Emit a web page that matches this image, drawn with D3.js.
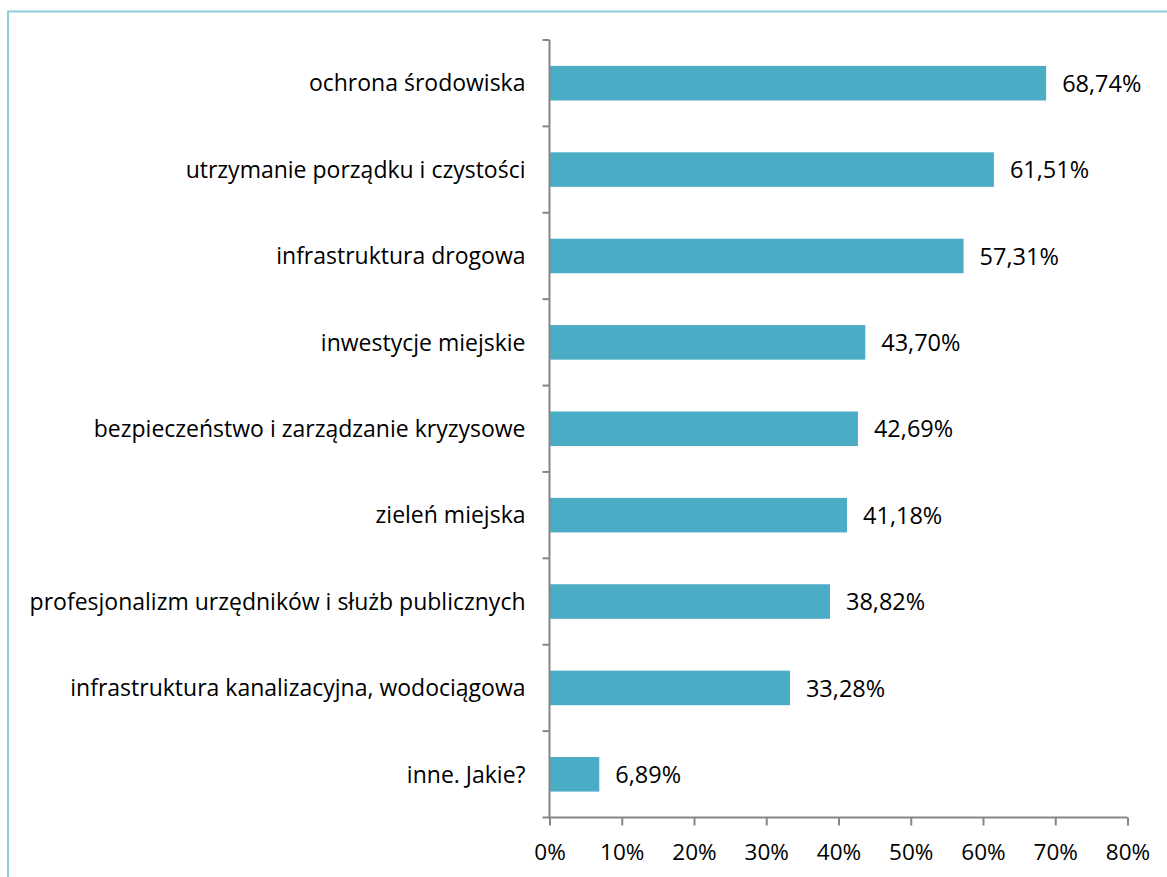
<!DOCTYPE html>
<html>
<head>
<meta charset="utf-8">
<script src="https://cdn.jsdelivr.net/npm/d3@7/dist/d3.min.js"></script>
<style>
  html, body { margin: 0; padding: 0; background: #fff; }
  svg { display: block; }
  text { font-family: "Open Sans", "Noto Sans", sans-serif; fill: #000; }
</style>
</head>
<body>
<svg id="chart" width="1167" height="877"></svg>
<script>
const categories = [
  "ochrona środowiska",
  "utrzymanie porządku i czystości",
  "infrastruktura drogowa",
  "inwestycje miejskie",
  "bezpieczeństwo i zarządzanie kryzysowe",
  "zieleń miejska",
  "profesjonalizm urzędników i służb publicznych",
  "infrastruktura kanalizacyjna, wodociągowa",
  "inne. Jakie?"
];
const values = [68.74, 61.51, 57.31, 43.70, 42.69, 41.18, 38.82, 33.28, 6.89];
const xTicks = [0, 10, 20, 30, 40, 50, 60, 70, 80];

const svg = d3.select("#chart");
const W = 1167, H = 877;

// chart frame (left and top edges visible)
svg.append("rect")
  .attr("x", 8).attr("y", 11.5)
  .attr("width", W + 20).attr("height", H + 20)
  .attr("fill", "none")
  .attr("stroke", "#92cddc")
  .attr("stroke-width", 2);

const plotLeft = 549.5, plotRight = 1127.5, plotTop = 40, plotBottom = 817.5;

const x = d3.scaleLinear().domain([0, 80]).range([plotLeft, plotRight]);
const y = d3.scaleBand().domain(categories).range([plotTop, plotBottom]).paddingInner(0.6).paddingOuter(0.3);

const fmt = v => v.toFixed(2).replace(".", ",") + "%";

// bars
svg.append("g").selectAll("rect")
  .data(values)
  .join("rect")
  .attr("x", x(0))
  .attr("y", (d, i) => y(categories[i]))
  .attr("width", d => x(d) - x(0))
  .attr("height", y.bandwidth())
  .attr("fill", "#4bacc6");

// value labels
svg.append("g").selectAll("text")
  .data(values)
  .join("text")
  .attr("x", d => x(d) + 16)
  .attr("y", (d, i) => y(categories[i]) + y.bandwidth() / 2)
  .attr("dy", "0.37em")
  .attr("font-size", 23.5)
  .text(d => fmt(d));

// category axis
const step = (plotBottom - plotTop) / categories.length;
const yAxis = svg.append("g");
yAxis.append("line")
  .attr("x1", plotLeft).attr("x2", plotLeft)
  .attr("y1", plotTop).attr("y2", plotBottom)
  .attr("stroke", "#868686").attr("stroke-width", 2);
yAxis.selectAll("line.tick")
  .data(d3.range(categories.length + 1))
  .join("line")
  .attr("class", "tick")
  .attr("x1", plotLeft - 7).attr("x2", plotLeft)
  .attr("y1", i => plotTop + i * step).attr("y2", i => plotTop + i * step)
  .attr("stroke", "#868686").attr("stroke-width", 2);
yAxis.selectAll("text")
  .data(categories)
  .join("text")
  .attr("x", plotLeft - 24)
  .attr("y", d => y(d) + y.bandwidth() / 2)
  .attr("dy", "0.36em")
  .attr("text-anchor", "end")
  .attr("font-size", 23)
  .text(d => d);

// value axis
const xAxis = svg.append("g")
  .attr("transform", `translate(0,${plotBottom})`)
  .call(d3.axisBottom(x).tickValues(xTicks).tickSize(8).tickFormat(d => d + "%"));
xAxis.select(".domain").attr("stroke", "#868686").attr("stroke-width", 2)
  .attr("d", `M${plotLeft - 0.5},0H${plotRight}`);
xAxis.selectAll(".tick line").attr("stroke", "#868686").attr("stroke-width", 2);
xAxis.selectAll(".tick text")
  .attr("font-size", 22.5)
  .attr("font-family", "\"Open Sans\", \"Noto Sans\", sans-serif")
  .attr("fill", "#000")
  .attr("dy", "1.42em");
</script>
</body>
</html>
